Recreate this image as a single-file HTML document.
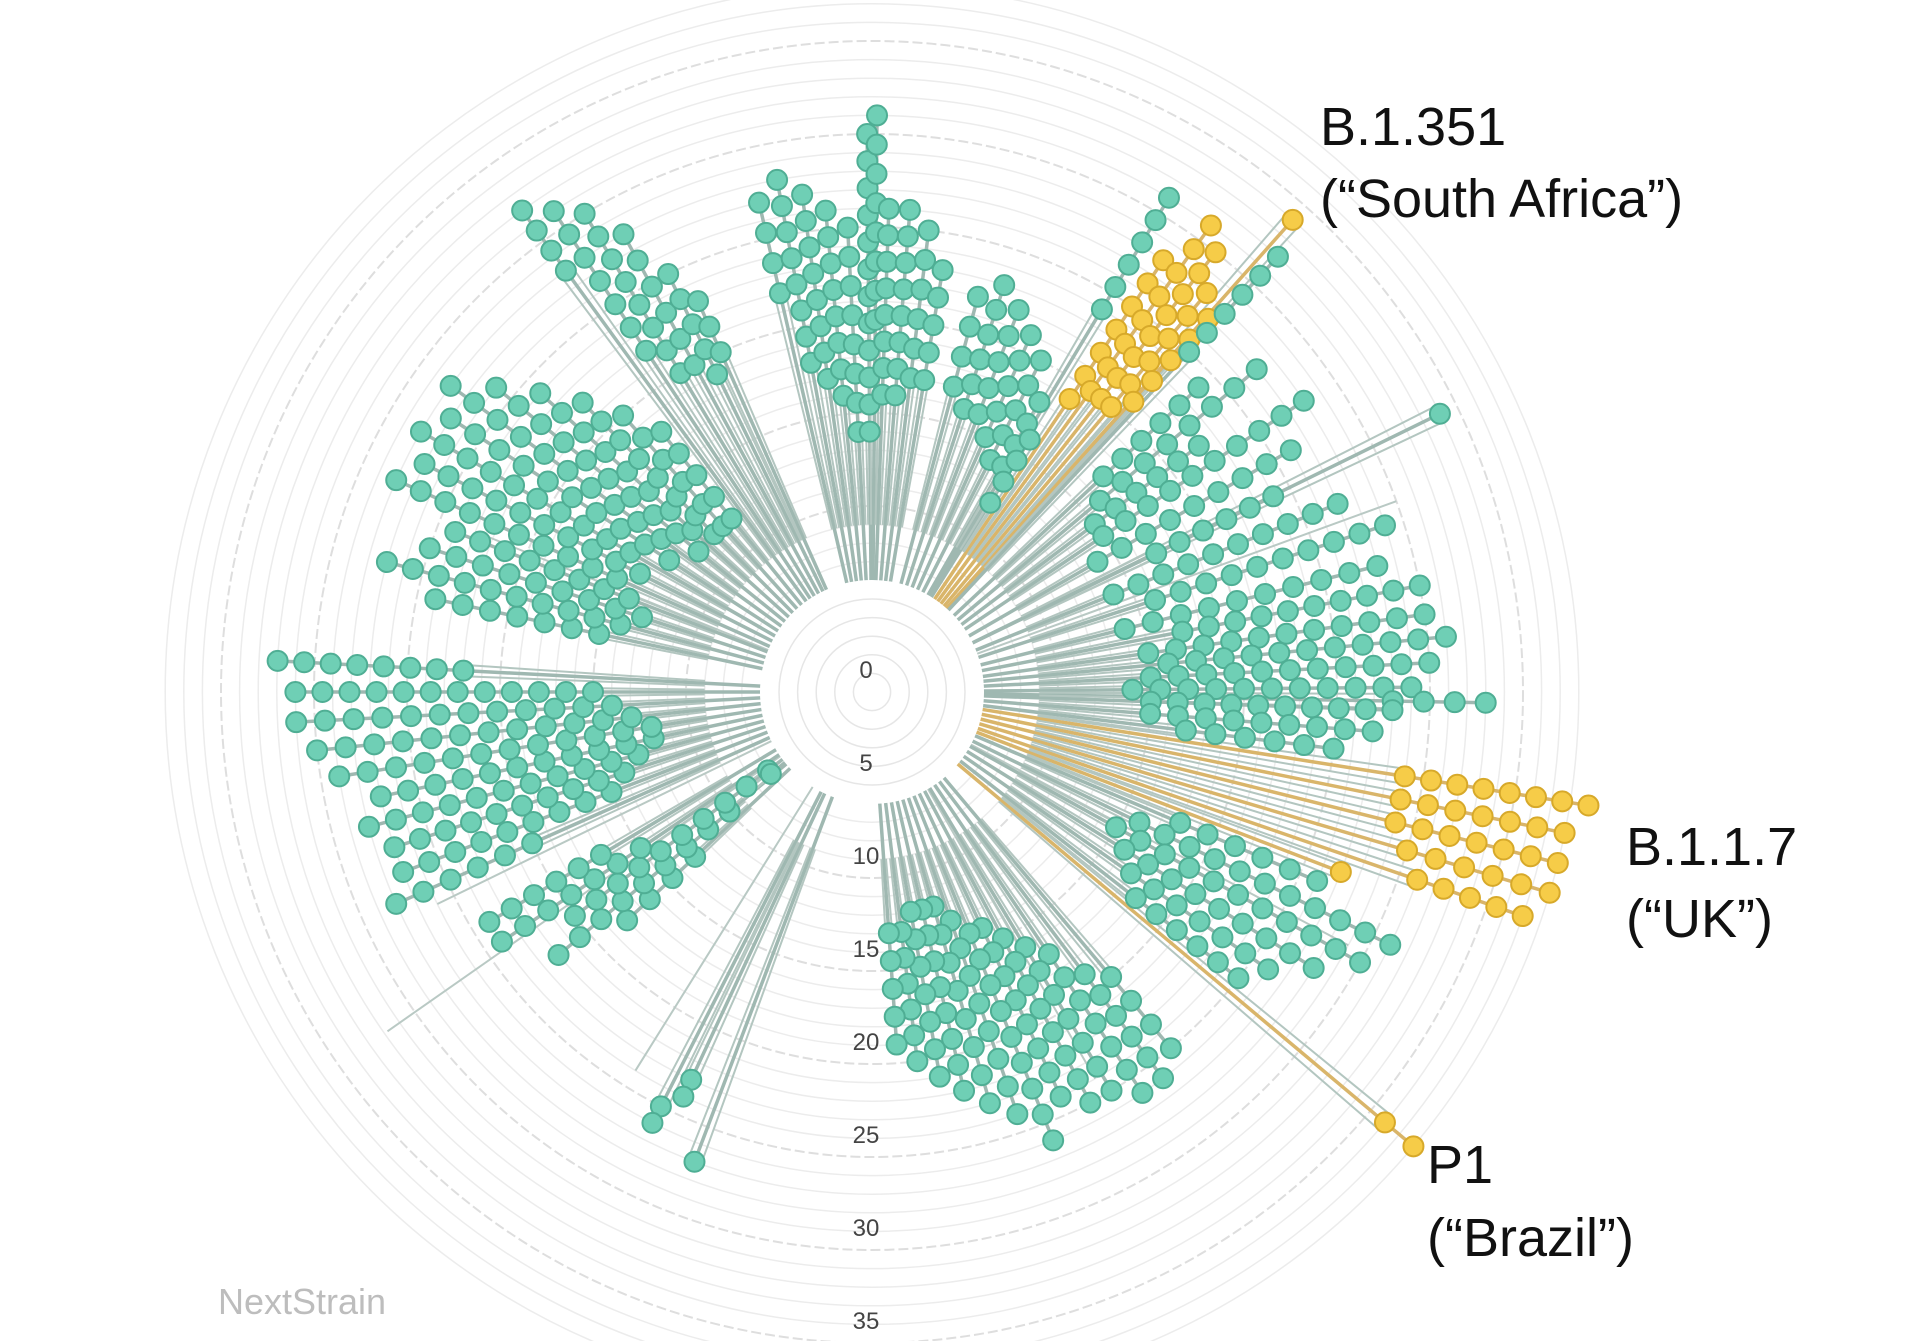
<!DOCTYPE html>
<html><head><meta charset="utf-8"><style>
html,body{margin:0;padding:0;background:#fff;}
svg{display:block;font-family:"Liberation Sans",sans-serif;}
</style></head><body>
<svg id="tree" width="1920" height="1341" viewBox="0 0 1920 1341" xmlns="http://www.w3.org/2000/svg">
<g id="rings"></g>
<g id="branches"></g>
<circle cx="872" cy="692" r="112" fill="#fff"/>
<g id="inner"></g>
<g id="tips"></g>
<g id="ticks"></g>
<text x="1320" y="145" font-size="54" fill="#111">B.1.351</text>
<text x="1320" y="217" font-size="54" fill="#111">(“South Africa”)</text>
<text x="1626" y="865" font-size="54" fill="#111">B.1.1.7</text>
<text x="1626" y="937" font-size="54" fill="#111">(“UK”)</text>
<text x="1427" y="1183" font-size="54" fill="#111">P1</text>
<text x="1427" y="1256" font-size="54" fill="#111">(“Brazil”)</text>
<text x="218" y="1314" font-size="36" fill="#bdbdbd">NextStrain</text>
</svg>
<script>
// branch data: angle (deg, clockwise from up), first tip divergence, last tip divergence, clade
const branchAngles = [-36,-33.5,-31,-28.5,-26,-24, -13,-10.5,-8,-5.5,-3,-0.5,0.5,2,4.5,7,9.5, 15,18,21,24,27,30,32, 34,36,38,40,42,41.7,31,43, 47,50,53,56,60,63.9,64,68,72,76,79, 82,84.5,87,89.5,91,92,94.5,97, 99,101.5,104,106.5,109, 113,116,119,122,125,128,111, 130, 140,143,146,149,152,155,158,161,164,167,170,173,176, 200.7,205,207, 227,230,233,236,239,231, 246,249,252,255,258,261,264,267,270,273, 282,285,288,291,294,297,300,303,306,309,312,315,318,321];
const branchStart = [28,22,20,20,19,20, 22,18,17,16,14,14,20,16,16,17,17, 17,16,16,15,14,14,12, 19,20,20,20,21,34,24,25, 17,16,15,15,14,34,17,14,16,14,17, 15,16,15,14,28,15,15,17, 29,29,29,30,31, 18,16,15,16,17,18,27, 36, 20,19,17,16,15,14,14,13,12,12,12,13,13, 27,23,25, 13,10,7,15,17,7, 20,15,14,13,12,12,13,14,15,22, 15,14,13,14,15,14,15,13,14,12,13,12,12,12];
const branchEnd = [32,31,30,28,25,23, 27,28,27,26,25,30,31,26,26,25,23, 22,23,22,21,20,18,16, 28,31,30,28,27,34,31,32, 24,27,22,28,26,34,24,27,29,28,30, 30,31,30,29,33,28,27,25, 39,38,38,38,37, 26,31,30,28,26,25,27, 38, 25,26,26,25,25,24,26,24,23,22,21,20,19, 27,24,26, 18,22,20,24,24,7, 28,27,27,28,27,29,30,31,31,32, 24,27,25,24,28,27,28,27,28,26,24,22,20,18];
const branchClade = ["t","t","t","t","t","t", "t","t","t","t","t","t","t","t","t","t","t", "t","t","t","t","t","t","t", "y","y","y","y","y","y","t","t", "t","t","t","t","t","t","t","t","t","t","t", "t","t","t","t","t","t","t","t", "y","y","y","y","y", "t","t","t","t","t","t","y", "y", "t","t","t","t","t","t","t","t","t","t","t","t","t", "t","t","t", "t","t","t","t","t","t", "t","t","t","t","t","t","t","t","t","t", "t","t","t","t","t","t","t","t","t","t","t","t","t","t"];
const bareAngles = [235, 244, 212, 258, 292, 70, 118, 150];
const bareLengths = [31.8, 26, 24, 25, 23, 30, 29, 24];
const tickLabels = ["0","5","10","15","20","25","30","35"];
const tickValues = [0,5,10,15,20,25,30,35];

const NS='http://www.w3.org/2000/svg';
const cx=872, cy=692, k=18.6, hub=6.0, step=1.5;
function px(a,r){return cx+Math.sin(a*Math.PI/180)*r*k;}
function py(a,r){return cy-Math.cos(a*Math.PI/180)*r*k;}
function mk(tag,attrs,parent){const e=document.createElementNS(NS,tag);for(const key in attrs)e.setAttribute(key,attrs[key]);parent.appendChild(e);return e;}

const rings=document.getElementById('rings');
for(let u=7;u<=38;u++){
  const c=mk('circle',{cx:cx,cy:cy,r:u*k,fill:'none',stroke:(u%5===0)?'#dedede':'#ececec','stroke-width':(u%5===0)?2:1.5,'stroke-dasharray':(u%5===0)?'10 4':'none'},rings);
  
  
}
const inner=document.getElementById('inner');
for(let u=1;u<=5;u++){
  const c=mk('circle',{cx:cx,cy:cy,r:u*k,fill:'none',stroke:'#e6e6e6','stroke-width':1.5},inner);
  
  
}
const br=document.getElementById('branches');
for(let i=0;i<bareAngles.length;i++){
  const l=mk('line',{x1:px(bareAngles[i],hub),y1:py(bareAngles[i],hub),x2:px(bareAngles[i],bareLengths[i]),y2:py(bareAngles[i],bareLengths[i]),stroke:'#b9c9c4','stroke-width':2},br);
  
  
}
for(let i=0;i<branchAngles.length;i++){
  const a=branchAngles[i], y=branchClade[i]==='y';
  const col=y?'#d9b56a':'#9fb8b1';
  const l=mk('line',{x1:px(a,hub),y1:py(a,hub),x2:px(a,branchEnd[i]),y2:py(a,branchEnd[i]),stroke:col,'stroke-width':3.5},br);
  
  
  for(const d of [-0.8,0.8]){
    const s=mk('line',{x1:px(a+d,hub+3),y1:py(a+d,hub+3),x2:px(a+d,branchStart[i]),y2:py(a+d,branchStart[i]),stroke:'#b3c6c0','stroke-width':2},br);
    
    
  }
}
const tips=document.getElementById('tips');
for(let i=0;i<branchAngles.length;i++){
  const a=branchAngles[i], y=branchClade[i]==='y';
  const r0=branchStart[i], r1=branchEnd[i];
  const n=Math.max(1,Math.round((r1-r0)/step)+1);
  for(let j=0;j<n;j++){
    const r=n===1?r1:r0+(r1-r0)*j/(n-1);
    const c=mk('circle',{cx:px(a,r),cy:py(a,r),r:10,fill:y?'#f6cc48':'#6fcfb5',stroke:y?'#d7a92a':'#4fae94','stroke-width':2},tips);
    
    
  }
}
const ticks=document.getElementById('ticks');
for(let i=0;i<tickValues.length;i++){
  const t=mk('text',{x:866,y:cy-14+tickValues[i]*k,'font-size':24,fill:'#444','text-anchor':'middle'},ticks);
  t.textContent=tickLabels[i];
  
  
}
</script>
</body></html>
